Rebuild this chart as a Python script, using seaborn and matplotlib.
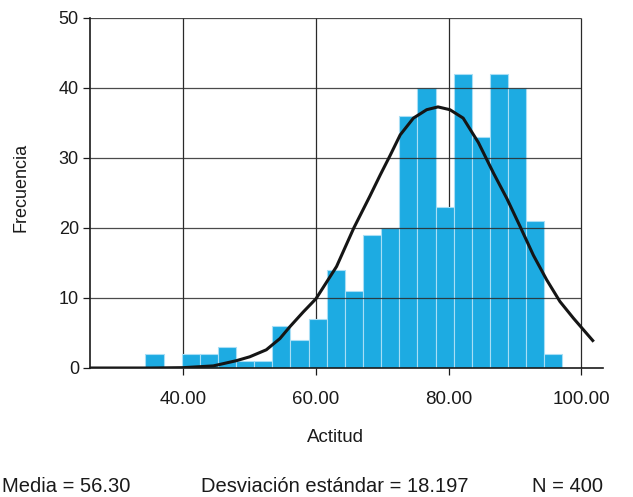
import numpy as np
import pandas as pd
import matplotlib
matplotlib.use("Agg")
import matplotlib.pyplot as plt
import seaborn as sns

# ---- data ----
counts = [2, 0, 2, 2, 3, 1, 1, 6, 4, 7, 14, 11, 19, 20, 36, 40, 23, 42, 33, 42, 40, 21, 2]
bin_start = 34.26
bin_width = 2.736

curve_x = [25.9, 35.0, 40.0, 44.5, 48.0, 50.0, 52.5, 54.55, 56.06, 58.07, 60.0, 63.1, 65.7,
           68.1, 69.7, 71.2, 72.7, 74.7, 76.7, 78.4, 80.2, 82.2, 84.5, 86.8, 88.8, 90.8,
           92.8, 94.8, 96.8, 98.85, 101.9]
curve_y = [0.0, 0.0, 0.05, 0.3, 1.05, 1.6, 2.6, 4.2, 5.9, 8.0, 9.9, 14.5, 20.0,
           24.5, 27.6, 30.4, 33.3, 35.7, 36.9, 37.3, 36.9, 35.7, 32.2, 27.8, 24.2, 20.2,
           16.1, 12.6, 9.5, 7.1, 3.76]

x_ticks = [40, 60, 80, 100]
x_ticklabels = ["40.00", "60.00", "80.00", "100.00"]
y_ticks = [0, 10, 20, 30, 40, 50]

x_label = "Actitud"
y_label = "Frecuencia"
footer = ["Media = 56.30", "Desviación estándar = 18.197", "N = 400"]

# ---- style ----
sns.set_theme(style="white")
plt.rcParams["font.family"] = ["Liberation Sans", "DejaVu Sans"]
ink = "#1a1a1a"

W, H = 633, 497
fig = plt.figure(figsize=(W / 100, H / 100), dpi=100)
ax = fig.add_axes([90 / W, (H - 368) / H, (603 - 90) / W, 350 / H])

edges = [bin_start + bin_width * i for i in range(len(counts) + 1)]
centers = [(edges[i] + edges[i + 1]) / 2 for i in range(len(counts))]
df = pd.DataFrame({"x": centers, "w": counts})

sns.histplot(data=df, x="x", weights="w", bins=edges, ax=ax,
             color="#1dabe2", edgecolor="#a8def5", linewidth=0.8, alpha=1, zorder=2)

cdf = pd.DataFrame({"x": curve_x, "y": curve_y})
sns.lineplot(data=cdf, x="x", y="y", ax=ax, color="#151515", linewidth=2.2,
             sort=True, zorder=4, solid_joinstyle="round", solid_capstyle="butt")

ax.set_xlim(25.9, 103.3)
ax.set_ylim(0, 50)
ax.set_xticks(x_ticks)
ax.set_xticklabels(x_ticklabels)
ax.set_yticks(y_ticks)
ax.set_xlabel("")
ax.set_ylabel("")

# gridlines: vertical behind bars, horizontal on top, ending at last x tick
ax.vlines(x_ticks, 0, y_ticks[-1], colors="#2a2a2a", linewidth=0.9, zorder=1)
ax.hlines(y_ticks[1:], ax.get_xlim()[0], x_ticks[-1], colors="#2a2a2a",
          linewidth=0.9, zorder=3, alpha=0.85)

for s in ["top", "right"]:
    ax.spines[s].set_visible(False)
for s in ["left", "bottom"]:
    ax.spines[s].set_color(ink)
    ax.spines[s].set_linewidth(1.2)
    ax.spines[s].set_zorder(5)

ax.tick_params(axis="both", which="both", direction="out", length=5, width=0.9,
               color=ink, labelcolor=ink)
ax.tick_params(axis="x", bottom=True, pad=11.5, labelsize=13.5)
ax.tick_params(axis="y", left=True, pad=3, labelsize=13)

fig.text(335 / W, 1 - 442.3 / H, x_label, ha="center", va="baseline", fontsize=13.5, color=ink)
fig.text(21 / W, 1 - 187 / H, y_label, ha="center", va="center", rotation=90,
         fontsize=13, color=ink)
fs = 14.5
yb = 1 - 491.7 / H
fig.text(1.5 / W, yb, footer[0], ha="left", va="baseline", fontsize=fs, color=ink)
fig.text(334.5 / W, yb, footer[1], ha="center", va="baseline", fontsize=fs, color=ink)
fig.text(603 / W, yb, footer[2], ha="right", va="baseline", fontsize=fs, color=ink)

fig.savefig("out.png", dpi=100, facecolor="white")
